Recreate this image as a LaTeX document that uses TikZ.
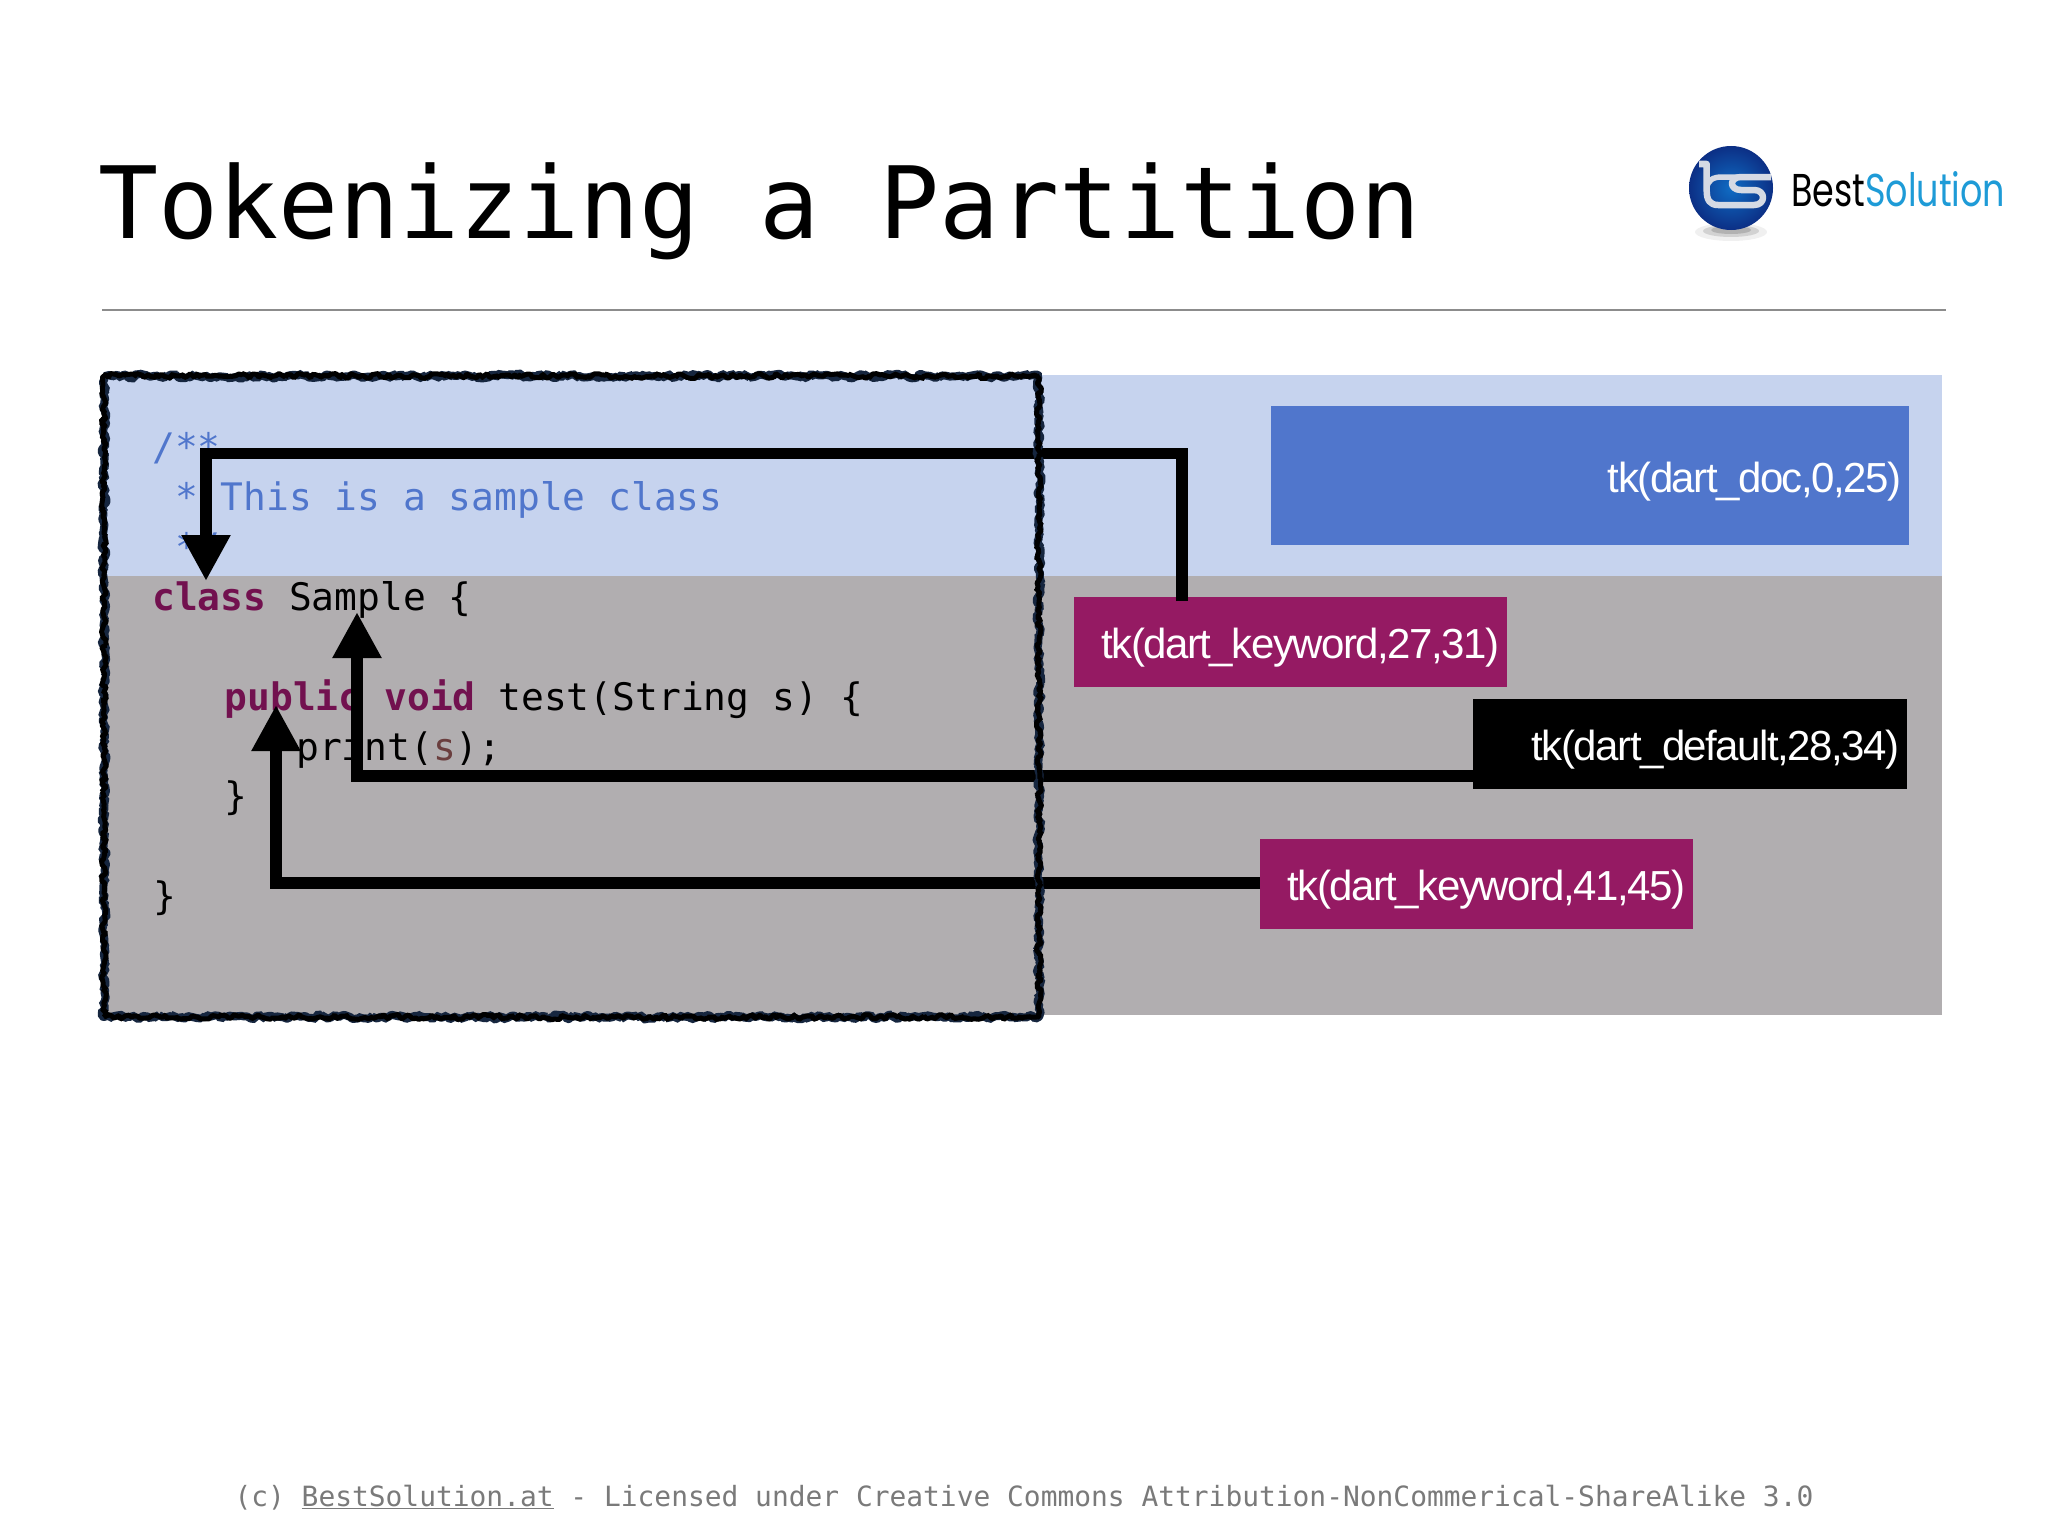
\documentclass[tikz,border=0pt]{standalone}
\usepackage{fontspec}
\usepackage{graphicx}
\setmainfont{Liberation Sans}
\newfontfamily\monof{DejaVu Sans Mono}
\newfontfamily\tkf[LetterSpace=-3.6]{Liberation Sans}
\newfontfamily\logof{Poppins}
\usetikzlibrary{arrows.meta,decorations.pathmorphing,calc}
\definecolor{bgblue}{HTML}{C6D3EE}
\definecolor{bggray}{HTML}{B1AEB0}
\definecolor{docblue}{HTML}{5076CC}
\definecolor{kwpurple}{HTML}{951A63}
\definecolor{kwtext}{HTML}{72114F}
\definecolor{varbrown}{HTML}{6A3E3E}
\definecolor{footgray}{HTML}{7A7A7A}
\definecolor{logoblue}{HTML}{1E9BD7}
\definecolor{framenavy}{HTML}{16263F}
\definecolor{ballA}{HTML}{0C2F85}
\definecolor{ballB}{HTML}{0F6CC4}
\definecolor{bsgray}{HTML}{D5DAE4}
\newcommand{\tklabel}[1]{\rule{0pt}{42pt}#1}
\tikzset{
  codeline/.style={anchor=base west,inner sep=0pt,font=\monof\fontsize{37.9}{38}\selectfont,text=black},
  tkbox/.style={anchor=north west,inner xsep=8pt,inner ysep=0pt,minimum height=#1,align=right,text=white,font=\tkf\fontsize{42}{42}\selectfont},
  conn/.style={line width=11.5pt,black},
  arr/.style={conn,-{Triangle[width=46pt,length=46pt]}},
  rough/.style={line width=#1,line join=bevel,line cap=butt,decorate,decoration={random steps,segment length=3pt,amplitude=2.5pt}}
}
\begin{document}
\begin{tikzpicture}[x=1pt,y=-1pt]
\useasboundingbox (0,0) rectangle (2048,1536);
\fill[white] (0,0) rectangle (2048,1536);
% title and rule
\node[anchor=base west,inner sep=0pt,font=\monof\fontsize{99.8}{100}\selectfont] (title) at (98.5,238) {Tokenizing a Partition};
\coordinate (ruleL) at (102,310);
\coordinate (ruleR) at (1946,310);
\draw[color=gray!90,line width=1.5pt] (ruleL) -- (ruleR);
% logo
\fill[black,opacity=.06] (1731,232) ellipse (36 and 9);
\fill[black,opacity=.12] (1731,231) ellipse (28 and 6);
\fill[black,opacity=.15] (1731,230) ellipse (20 and 4);
\shade[inner color=ballB,outer color=ballA] (1731,188) circle (42);
\draw[color=bsgray,line width=6.5pt,line join=round,line cap=butt]
  (1699,164) -- (1706.7,164) -- (1706.7,191) .. controls (1706.7,200) and (1710,205) .. (1718,205)
  -- (1754,205) .. controls (1766,205) and (1766,190) .. (1754,190)
  -- (1741,190) .. controls (1729,190) and (1729,177) .. (1741,177) -- (1771,177);
\draw[color=bsgray,line width=5.5pt] (1706.7,188) .. controls (1708,180) and (1713,177) .. (1722,177) -- (1741,177);
\node[anchor=base west,inner sep=0pt,font=\logof\fontsize{46}{46}\selectfont] (logotext) at (1791,206) {\scalebox{.76}[1]{Best\textcolor{logoblue}{Solution}}};
% background bands
\fill[bgblue] (104,375) rectangle (1942,576);
\fill[bggray] (104,576) rectangle (1942,1015);
% code
\node[codeline,text=docblue] (l1) at (152,460) {/**};
\node[codeline,text=docblue] (l2) at (152,510) {\ * This is a sample class};
\node[codeline,text=docblue] (l3) at (152,560) {\ */};
\node[codeline] (l4) at (152,610) {\textcolor{kwtext}{\bfseries class} Sample \{};
\node[codeline] (l5) at (224.5,710) {\textcolor{kwtext}{\bfseries public} \textcolor{kwtext}{\bfseries void} test(String s) \{};
\node[codeline] (l6) at (296,760) {print(\textcolor{varbrown}{s});};
\node[codeline] (l7) at (224.5,809) {\}};
\node[codeline] (l8) at (153,909) {\}};
% token boxes
\node[tkbox=139pt,fill=docblue,text width=622pt] (tk1) at (1271,406) {\tklabel{tk(dart\_doc,0,25)}};
\node[tkbox=90pt,fill=kwpurple,text width=417pt] (tk2) at (1074,597) {\tklabel{tk(dart\_keyword,27,31)}};
\node[tkbox=90pt,fill=black,text width=418pt] (tk3) at (1473,699) {\tklabel{tk(dart\_default,28,34)}};
\node[tkbox=90pt,fill=kwpurple,text width=417pt] (tk4) at (1260,839) {\tklabel{tk(dart\_keyword,41,45)}};
% connectors
\coordinate (t1) at (206,581);
\coordinate (e1) at (206,453.5);
\coordinate (t2) at (357,612);
\coordinate (e2) at (357,776);
\coordinate (t3) at (276,705);
\coordinate (e3) at (276,883);
\draw[arr] ([xshift=-108.5pt,yshift=-4pt]tk2.north) |- (e1) -- (t1);
\draw[arr] (tk3.west |- e2) -- (e2) -- (t2);
\draw[arr] (tk4.west |- e3) -- (e3) -- (t3);
% rough frame
\pgfmathsetseed{7}
\coordinate (f1) at (104,376);
\coordinate (f2) at (1039,1017);
\draw[rough=8pt,draw=framenavy] (f1) rectangle (f2);
\draw[rough=5pt,draw=black] (f1) rectangle (f2);
% footer
\node[anchor=base,inner sep=0pt,text=footgray,font=\monof\fontsize{27.9}{28}\selectfont] (foot) at (1024,1506) {(c) \underline{BestSolution.at} - Licensed under Creative Commons Attribution-NonCommerical-ShareAlike 3.0};
\end{tikzpicture}
\end{document}
